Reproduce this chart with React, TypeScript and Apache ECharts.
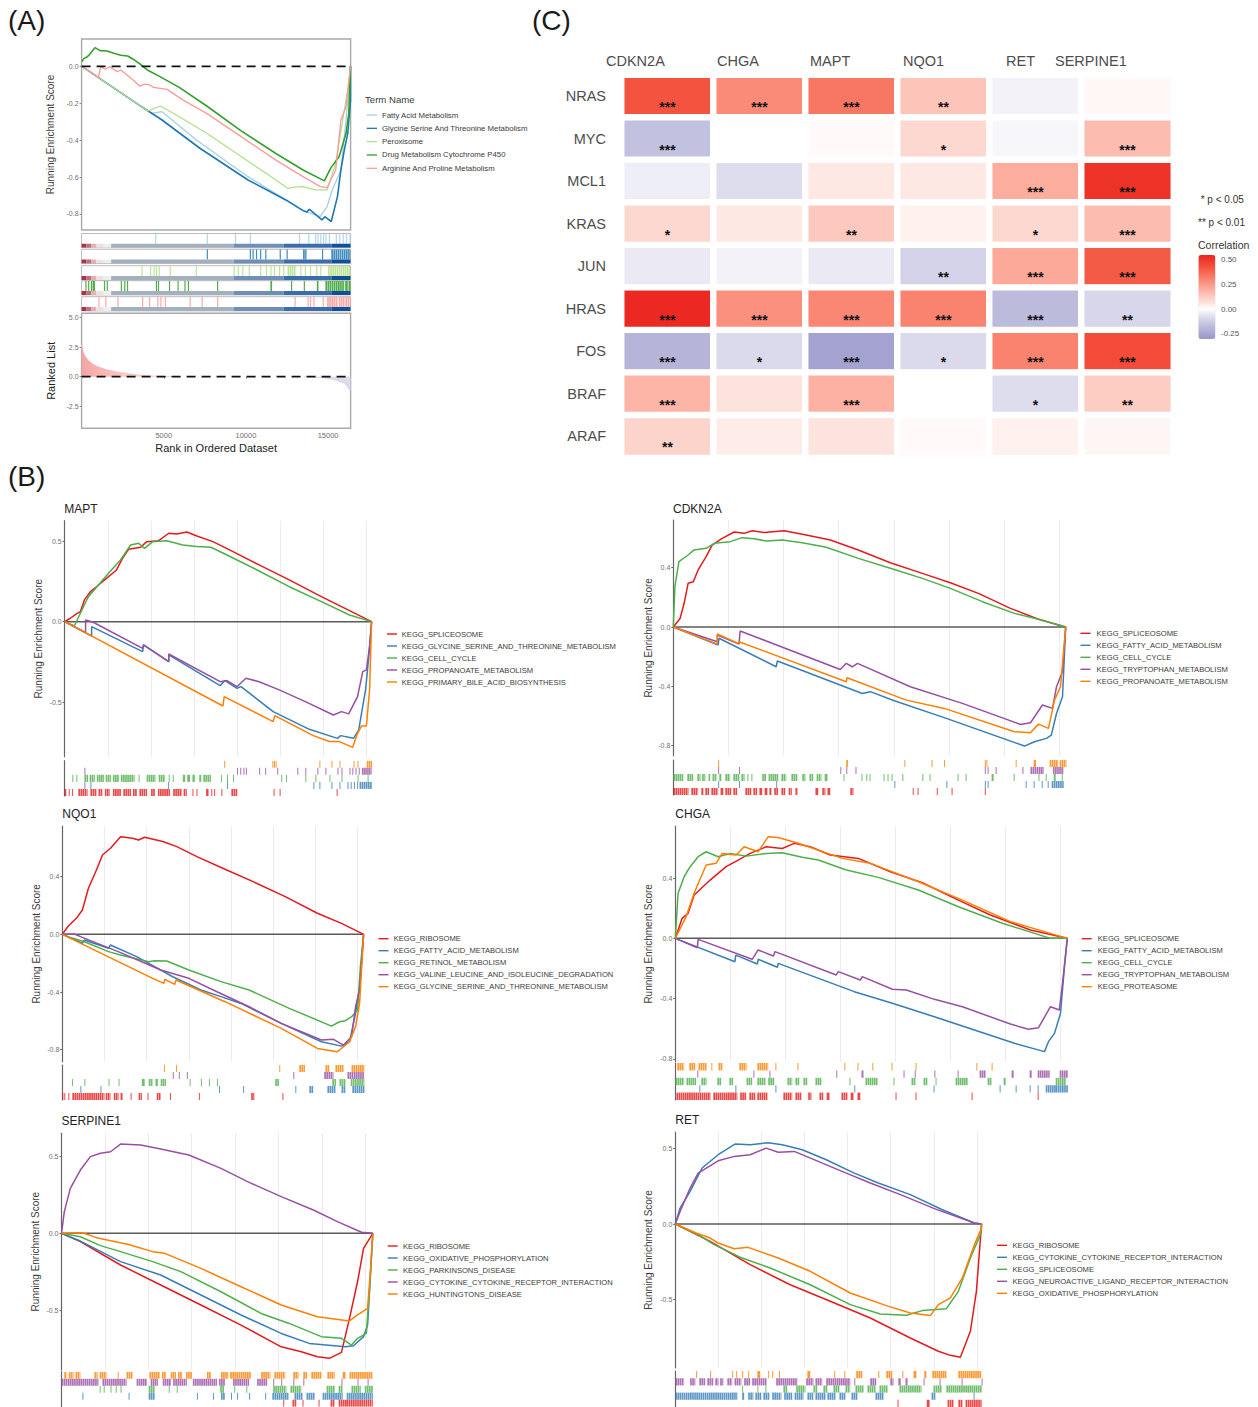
import React, { useEffect, useRef } from "react";
import * as echarts from "echarts";

// ---------- Panel A data (rank, running enrichment score) ----------
const aFatty = [[19,0],[3640,-.218],[4267,-.255],[4895,-.246],[6988,-.399],[10128,-.598],[12430,-.724],[13477,-.782],[14523,-.814],[14942,-.76],[15256,-.67],[15779,-.562],[16093,-.291],[16365,0]];
const aGlycine = [[19,0],[3640,-.218],[4895,-.291],[7198,-.444],[10128,-.616],[12430,-.724],[13477,-.782],[13700,-.79],[13850,-.775],[14000,-.785],[14628,-.832],[14800,-.815],[15193,-.841],[15570,-.706],[15779,-.562],[15988,-.453],[16198,-.363],[16365,-.182],[16365,0]];
const aPerox = [[19,0],[3640,-.218],[4058,-.242],[4791,-.215],[5942,-.273],[7616,-.363],[9709,-.489],[11384,-.589],[12535,-.661],[12953,-.655],[13477,-.652],[14209,-.67],[14942,-.67],[15465,-.525],[15988,-.237],[16198,-.128],[16365,0]];
const aDrug = [[19,.025],[145,.043],[291,.049],[459,.061],[814,.101],[1128,.085],[1547,.083],[1965,.071],[2384,.06],[2802,.056],[3221,.034],[3640,.007],[4058,-.023],[4686,-.052],[5942,-.114],[7616,-.215],[9709,-.35],[11802,-.471],[13477,-.562],[14774,-.621],[15151,-.553],[15674,-.489],[16093,-.363],[16260,-.255],[16365,0]];
const aArginine = [[19,0],[1023,-.06],[1170,-.002],[1442,-.016],[1714,-.002],[2175,-.029],[2384,-.02],[3012,-.065],[3535,-.107],[3849,-.096],[4163,-.101],[4372,-.114],[5209,-.125],[6151,-.182],[7616,-.255],[9709,-.381],[11802,-.507],[13477,-.598],[14523,-.652],[14942,-.657],[15465,-.562],[15779,-.291],[16093,-.218],[16365,0]];
const aRankedPos = [[1,2.7],[100,2.1],[200,1.8],[400,1.4],[700,1.05],[1000,.85],[1500,.6],[2000,.45],[2500,.33],[3000,.22],[3500,.14],[4000,.08],[5000,.02],[6000,0]];
const aRankedNeg = [[13500,0],[14000,-.02],[14500,-.08],[15000,-.15],[15500,-.3],[16000,-.55],[16365,-1.2]];
const aRugFatty = [4477,7616,9333,10233,13226,13791,14209,14355,14523,14690,14837,15046,15465,15674,15883,16093,16302];
const aRugGlycine = [7616,10233,10400,10609,10860,11174,12053,12472,[13477,13686],14628,[15193,16365]];
const aRugPerox = [3640,4163,4372,4519,4686,5356,6947,9249,9500,9772,10170,10860,11216,11488,11697,12011,12262,[12535,13058],13310,13582,13895,14272,14523,[15000,16365]];
const aRugDrug = [228,395,563,[668,814],1360,1528,2384,2593,2760,4519,4644,5314,[5837,5900],6255,6465,8244,[11488,11593],12744,13519,[14314,14418],[14837,16000],[16040,16200],[16240,16365]];
const aRugArginine = [1023,1442,2175,3682,4100,4603,4791,5063,6570,7302,8244,12953,13749,13895,14104,14669,[14942,15600],[15650,16000],[16050,16365]];
const aBandFrom = [0,300,600,900,1300,1800,9250,12300,15200];
const aBandTo = [300,600,900,1300,1800,9250,12300,15200,16365];

// ---------- Panel B: MAPT ----------
const maptRed = [[0,0],[14,.021],[29,.048],[39,.062],[49,.135],[64,.186],[79,.217],[104,.269],[129,.321],[144,.393],[159,.449],[189,.462],[204,.497],[234,.503],[259,.549],[279,.545],[304,.557],[329,.532],[369,.497],[419,.435],[489,.346],[559,.259],[639,.155],[709,.068],[764,0]];
const maptBlue = [[0,0],[67,-.089],[67,-.031],[194,-.186],[196,-.145],[259,-.248],[259,-.207],[387,-.398],[399,-.366],[429,-.414],[439,-.404],[519,-.559],[609,-.669],[679,-.725],[687,-.708],[719,-.725],[732,-.673],[739,-.569],[749,-.424],[757,-.217],[764,0]];
const maptGreen = [[0,0],[24,-.027],[39,.052],[59,.155],[84,.228],[109,.3],[139,.383],[164,.476],[184,.487],[199,.455],[219,.497],[254,.503],[294,.476],[329,.466],[364,.462],[399,.42],[479,.321],[559,.217],[639,.124],[709,.041],[764,0]];
const maptPurple = [[0,0],[52,-.068],[52,.01],[71,-.004],[194,-.166],[196,-.145],[259,-.248],[259,-.201],[387,-.373],[404,-.366],[429,-.404],[451,-.352],[484,-.373],[534,-.424],[599,-.497],[669,-.58],[689,-.559],[707,-.573],[729,-.466],[742,-.311],[751,-.3],[759,-.155],[764,0]];
const maptOrange = [[0,0],[394,-.524],[397,-.466],[519,-.621],[523,-.584],[619,-.708],[659,-.745],[684,-.745],[717,-.781],[729,-.694],[739,-.648],[751,-.648],[759,-.424],[764,0]];
const maptRugOrange = [397,517,521,525,634,664,684,719,729,[752,766]];
const maptRugPurple = [49,429,437,445,451,484,499,529,579,599,629,649,679,689,709,716,724,732,[740,764]];
const maptRugGreen = [19,29,[49,58],[62,75],[80,98],[102,115],[120,135],[140,174],184,[204,226],[234,250],259,269,[294,300],[305,312],[318,324],[335,340],[345,364],389,404,419,539,551,599,624,659,689,729,754];
const maptRugBlue = [49,64,257,404,619,634,664,684,704,712,720,728,[734,769]];
const maptRugRed = [[0,4],10,18,[34,57],[64,80],[84,94],[100,112],[120,140],[146,165],[170,180],[186,205],[215,225],[232,262],[270,292],[296,304],318,328,[352,358],365,372,390,[415,430],520,535,677];

// ---------- Panel B: CDKN2A ----------
const cdkRed = [[0,0],[17,.058],[27,.16],[37,.295],[50,.306],[62,.385],[82,.475],[97,.553],[122,.598],[152,.641],[177,.632],[197,.65],[227,.637],[277,.65],[332,.621],[392,.587],[462,.52],[542,.434],[622,.362],[692,.299],[762,.227],[842,.126],[912,.052],[980,0]];
const cdkBlue = [[0,0],[112,-.121],[114,-.076],[257,-.268],[260,-.229],[472,-.448],[492,-.436],[552,-.497],[682,-.616],[877,-.803],[902,-.774],[932,-.751],[944,-.729],[957,-.583],[972,-.47],[980,0]];
const cdkGreen = [[0,0],[4,.272],[14,.441],[37,.486],[52,.52],[82,.531],[102,.565],[142,.576],[172,.603],[202,.596],[232,.58],[272,.587],[322,.569],[382,.538],[462,.463],[542,.396],[622,.328],[692,.261],[772,.171],[852,.092],[912,.052],[980,0]];
const cdkPurple = [[0,0],[110,-.099],[110,-.054],[164,-.115],[167,-.027],[417,-.286],[432,-.245],[447,-.268],[460,-.245],[592,-.403],[722,-.515],[867,-.657],[892,-.646],[922,-.526],[947,-.549],[957,-.403],[972,-.301],[980,0]];
const cdkOrange = [[0,0],[110,-.115],[110,-.047],[162,-.11],[164,-.099],[432,-.369],[434,-.342],[582,-.493],[677,-.549],[852,-.706],[892,-.713],[912,-.655],[937,-.684],[952,-.493],[967,-.403],[980,0]];
const cdkRugOrange = [112,432,434,577,645,676,778,782,855,[900,906],[940,960],[965,982]];
const cdkRugPurple = [112,164,417,432,455,778,785,805,872,[892,925],[948,975]];
const cdkRugGreen = [[0,25],[35,50],[60,68],[72,80],[88,92],[98,108],[115,120],[130,142],[150,165],[170,178],185,195,[222,232],[238,262],[270,282],[295,310],[322,330],[340,350],[358,370],[378,385],425,470,482,490,525,535,545,572,622,640,710,730,[795,800],850,912,930,[950,955],970];
const cdkRugBlue = [112,164,257,552,682,778,785,880,900,920,935,[945,975]];
const cdkRugRed = [[0,38],[45,62],[70,75],[80,90],[95,112],[118,125],[130,145],[150,160],[180,195],[200,210],[215,222],[228,235],[240,245],[252,262],[270,280],[288,296],[305,310],[355,362],[372,380],[385,392],[442,450],598,610,658,695,778];

// ---------- Panel B: NQO1 ----------
const nqoRed = [[0,0],[15,.058],[35,.111],[50,.169],[65,.319],[85,.446],[100,.55],[120,.597],[145,.677],[175,.666],[190,.654],[205,.673],[250,.643],[285,.608],[335,.539],[405,.451],[475,.365],[555,.261],[635,.146],[695,.076],[750,0]];
const nqoBlue = [[0,0],[50,-.062],[55,-.039],[115,-.097],[120,-.074],[185,-.155],[275,-.294],[345,-.386],[395,-.432],[445,-.479],[545,-.617],[645,-.745],[695,-.775],[715,-.745],[730,-.548],[740,-.363],[750,0]];
const nqoGreen = [[0,0],[20,-.021],[55,-.051],[115,-.12],[145,-.143],[215,-.19],[230,-.183],[260,-.185],[315,-.247],[395,-.328],[465,-.386],[565,-.513],[670,-.636],[690,-.606],[705,-.599],[720,-.571],[735,-.525],[742,-.224],[750,0]];
const nqoPurple = [[0,0],[30,.002],[50,-.021],[145,-.127],[245,-.247],[315,-.305],[385,-.398],[465,-.502],[545,-.617],[645,-.733],[675,-.728],[700,-.768],[720,-.71],[730,-.502],[740,-.386],[750,0]];
const nqoOrange = [[0,0],[225,-.305],[253,-.34],[255,-.312],[280,-.347],[283,-.317],[405,-.467],[545,-.652],[635,-.791],[685,-.814],[715,-.745],[730,-.64],[740,-.479],[750,0]];
const nqoRugOrange = [253,283,540,[590,604],[655,665],[680,700],[720,752]];
const nqoRugPurple = [275,290,310,575,[652,675],[710,752]];
const nqoRugGreen = [24,55,115,140,[198,205],[215,225],[232,238],[245,258],317,345,365,385,[530,540],[672,682],[690,705],[718,752]];
const nqoRugBlue = [45,95,390,450,580,[615,625],[660,680],[695,705],[722,752]];
const nqoRugRed = [0,5,15,[25,105],[108,120],[128,140],[145,150],170,[190,198],212,[235,245],268,340,[470,478],548];

// ---------- Panel B: CHGA ----------
const chgRed = [[0,0],[17,.133],[32,.166],[47,.288],[87,.387],[127,.476],[157,.52],[187,.564],[227,.608],[267,.597],[297,.631],[337,.608],[387,.553],[457,.531],[537,.442],[617,.369],[707,.254],[787,.155],[887,.055],[979,0]];
const chgBlue = [[0,0],[149,-.155],[151,-.111],[205,-.17],[207,-.139],[255,-.192],[257,-.166],[447,-.354],[542,-.431],[647,-.52],[847,-.697],[922,-.752],[932,-.686],[947,-.631],[962,-.498],[972,-.188],[979,0]];
const chgGreen = [[0,0],[7,.299],[22,.409],[37,.476],[57,.542],[77,.575],[107,.542],[137,.564],[177,.546],[227,.564],[267,.569],[317,.538],[357,.52],[427,.454],[507,.405],[607,.321],[707,.21],[817,.1],[937,0],[979,0]];
const chgPurple = [[0,0],[55,-.062],[57,-.007],[192,-.139],[207,-.077],[245,-.117],[249,-.088],[402,-.243],[407,-.221],[462,-.277],[467,-.254],[542,-.338],[577,-.343],[647,-.405],[717,-.454],[837,-.569],[882,-.604],[907,-.593],[937,-.454],[959,-.476],[967,-.299],[979,0]];
const chgOrange = [[0,0],[27,.144],[47,.299],[77,.487],[102,.498],[117,.564],[152,.553],[172,.608],[207,.575],[232,.675],[257,.67],[307,.631],[357,.586],[417,.531],[487,.498],[607,.376],[717,.254],[837,.111],[979,0]];
const chgRugOrange = [[5,22],[35,50],[58,78],90,[108,118],[160,178],[205,232],250,305,422,455,492,540,600,752,790];
const chgRugPurple = [55,195,235,402,[465,470],570,598,647,705,[760,775],[840,845],[885,890],[905,935],[960,982]];
const chgRugGreen = [[0,22],[28,52],[65,78],[105,115],[135,145],[178,192],[205,225],[232,248],[280,292],[300,310],[320,330],[350,365],435,[475,505],545,[590,600],[620,630],650,[700,730],[780,790],[820,825],[950,975]];
const chgRugBlue = [60,150,250,447,645,810,850,885,905,[925,950],[950,982]];
const chgRugRed = [[3,88],[95,155],[162,178],[185,200],[205,230],[270,292],[300,315],[332,340],[360,370],[378,385],[415,430],[438,445],[455,462],550,600,740,905];

// ---------- Panel B: SERPINE1 ----------
const serRed = [[0,0],[47,-.054],[147,-.206],[247,-.336],[347,-.466],[447,-.597],[547,-.738],[597,-.77],[637,-.803],[667,-.813],[697,-.774],[717,-.553],[737,-.315],[752,-.098],[775,0]];
const serBlue = [[0,0],[47,-.05],[147,-.184],[247,-.271],[347,-.401],[447,-.531],[547,-.651],[617,-.716],[707,-.738],[727,-.731],[752,-.672],[762,-.597],[775,0]];
const serGreen = [[0,0],[47,-.022],[97,-.08],[147,-.119],[227,-.184],[297,-.249],[397,-.38],[497,-.521],[567,-.586],[647,-.672],[697,-.683],[722,-.727],[737,-.683],[759,-.651],[767,-.358],[775,0]];
const serPurple = [[0,0],[7,.141],[22,.293],[47,.412],[72,.499],[97,.521],[122,.531],[147,.581],[197,.575],[247,.549],[317,.51],[397,.423],[467,.332],[547,.239],[627,.152],[687,.076],[747,.007],[775,0]];
const serOrange = [[0,0],[52,.004],[87,-.028],[167,-.072],[227,-.119],[257,-.13],[347,-.228],[447,-.347],[547,-.466],[637,-.542],[717,-.57],[737,-.531],[762,-.488],[769,-.249],[775,0]];
const serRugOrange = [[7,12],[18,30],[35,47],[82,90],[95,112],140,[162,177],[219,245],[250,260],[272,285],[290,300],[310,325],[362,372],[397,415],[420,472],[497,520],[530,557],[577,590],[602,612],[622,647],[662,680],[700,707],[717,775]];
const serRugPurple = [[0,92],[102,162],[187,212],[222,240],[252,272],[278,312],[327,387],[392,407],[427,467],[487,512],527,547,577,602,697,737,762];
const serRugGreen = [95,105,122,135,147,[217,232],267,287,[395,405],430,460,[527,560],[570,597],[660,680],[690,700],[722,745],[755,775]];
const serRugBlue = [52,167,[217,232],337,377,[397,407],422,437,467,507,[525,565],[580,600],[610,630],[650,700],[710,775]];
const serRugRed = [552,[575,585],600,640,[670,680],[690,710],[710,775]];

// ---------- Panel B: RET ----------
const retRed = [[0,0],[87,-.115],[187,-.27],[287,-.403],[387,-.513],[487,-.624],[587,-.757],[657,-.845],[687,-.872],[712,-.885],[737,-.712],[752,-.447],[759,-.204],[765,0]];
const retBlue = [[0,0],[12,.106],[37,.217],[67,.372],[107,.46],[149,.531],[187,.527],[232,.54],[267,.527],[317,.493],[377,.427],[447,.338],[507,.272],[587,.195],[667,.095],[747,.007],[765,0]];
const retGreen = [[0,0],[57,-.071],[97,-.137],[167,-.226],[237,-.292],[337,-.403],[437,-.535],[512,-.597],[577,-.606],[617,-.575],[677,-.562],[707,-.447],[737,-.226],[762,-.071],[765,0]];
const retPurple = [[0,0],[12,.084],[37,.239],[57,.338],[107,.42],[147,.449],[187,.46],[227,.504],[257,.476],[297,.482],[357,.416],[427,.338],[487,.272],[567,.19],[647,.102],[747,.007],[765,0]];
const retOrange = [[0,0],[52,-.06],[87,-.093],[107,-.126],[147,-.164],[182,-.155],[257,-.226],[337,-.314],[437,-.458],[527,-.542],[587,-.591],[637,-.608],[657,-.535],[687,-.491],[717,-.358],[747,-.137],[765,-.027],[765,0]];
const retRugOrange = [52,87,142,152,167,182,[205,212],232,242,259,[330,337],397,422,[452,467],507,[527,542],567,[595,602],[622,627],[642,677],[707,765]];
const retRugPurple = [[0,22],[37,50],[60,75],[80,95],[100,108],[112,120],[130,142],[148,165],[172,187],[192,228],[252,305],[327,345],[350,367],[377,437],447,[487,502],[537,545],[557,563],[575,580],620,660,715,765];
const retRugGreen = [167,205,225,[270,280],[302,325],[345,355],[370,380],[395,410],[425,437],[450,470],[480,500],[510,530],[560,615],[645,665],[677,765]];
const retRugBlue = [[0,155],[167,172],[182,195],[200,215],[220,235],[242,265],[272,292],[298,320],[330,345],[350,375],[380,400],[410,425],[440,455],[500,520],[640,650],745];
const retRugRed = [555,[628,635],[680,695],[707,718],[725,765]];

// ---------- Panel C data ----------
const heatCols = ["CDKN2A", "CHGA", "MAPT", "NQO1", "RET", "SERPINE1"];
const heatRows = ["NRAS", "MYC", "MCL1", "KRAS", "JUN", "HRAS", "FOS", "BRAF", "ARAF"];
const heatVals = [
  [.42,.28,.33,.14,-.03,.015],
  [-.16,0,.01,.09,-.02,.16],
  [-.04,-.08,.05,.05,.2,.5],
  [.09,.05,.13,.03,.09,.16],
  [-.05,-.03,-.05,-.11,.21,.4],
  [.53,.27,.29,.3,-.18,-.1],
  [-.2,-.09,-.26,-.09,.3,.44],
  [.18,.06,.19,0,-.08,.12],
  [.1,.04,.06,.01,.03,.02],
];
const heatStars = [
  ["***","***","***","**","",""],
  ["***","","","*","","***"],
  ["","","","","***","***"],
  ["*","","**","","*","***"],
  ["","","","**","***","***"],
  ["***","***","***","***","***","**"],
  ["***","*","***","*","***","***"],
  ["***","","***","","*","**"],
  ["**","","","","",""],
];
const colorbarTicks = ["0.50", "0.25", "0.00", "-0.25"];

// ---------- Styles & layout ----------
const FONT = "Liberation Sans";
const RED = "#e41a1c", BLUE = "#377eb8", GREEN = "#4daf4a", PURPLE = "#984ea3", ORANGE = "#ff7f00";
const setColors = [RED, BLUE, GREEN, PURPLE, ORANGE];
const bandColors = ["#b03048", "#c76b7c", "#e4b0b8", "#f3dfe2", "#eceef2", "#a4afc0", "#6f8fb8", "#3a6cb0", "#114f9b"];
const heatScale = ["#9896ca","#a9a8d3","#bcbbdc","#cfcee6","#e6e5f2","#ffffff","#fde3dd","#fdccc2","#fcb5a7","#fb9c8b","#f9836f","#f66b56","#f3533f","#ef3b2c","#ea2420"];

type Rug = (number | number[])[];
const panelsB = [
  { title: "MAPT", left: 64.7, right: 371.6, top: 520.7, bottom: 756.7, rugTop: 760.7, rugBottom: 796, xMax: 764, step: 107.3, yMin: -.839, yMax: .627, ticks: [-.5,0,.5], gap: 21.7, titleX: 64.3, titleY: 509,
    curves: [maptRed, maptBlue, maptGreen, maptPurple, maptOrange], rugs: [maptRugRed, maptRugBlue, maptRugGreen, maptRugPurple, maptRugOrange] as Rug[],
    names: ["KEGG_SPLICEOSOME","KEGG_GLYCINE_SERINE_AND_THREONINE_METABOLISM","KEGG_CELL_CYCLE","KEGG_PROPANOATE_METABOLISM","KEGG_PRIMARY_BILE_ACID_BIOSYNTHESIS"], keyX: 387, textX: 401.8, legendY: 634 },
  { title: "CDKN2A", left: 673.3, right: 1065.7, top: 520, bottom: 755.7, rugTop: 760, rugBottom: 795, xMax: 980, step: 137.7, yMin: -.868, yMax: .722, ticks: [-.8,-.4,0,.4], gap: 20.3, titleX: 673, titleY: 509,
    curves: [cdkRed, cdkBlue, cdkGreen, cdkPurple, cdkOrange], rugs: [cdkRugRed, cdkRugBlue, cdkRugGreen, cdkRugPurple, cdkRugOrange] as Rug[],
    names: ["KEGG_SPLICEOSOME","KEGG_FATTY_ACID_METABOLISM","KEGG_CELL_CYCLE","KEGG_TRYPTOPHAN_METABOLISM","KEGG_PROPANOATE_METABOLISM"], keyX: 1080.5, textX: 1096.6, legendY: 633.3 },
  { title: "NQO1", left: 62.3, right: 363.6, top: 826, bottom: 1061.7, rugTop: 1065, rugBottom: 1100, xMax: 750, step: 105, yMin: -.883, yMax: .751, ticks: [-.8,-.4,0,.4], gap: 21.3, titleX: 62.3, titleY: 814,
    curves: [nqoRed, nqoBlue, nqoGreen, nqoPurple, nqoOrange], rugs: [nqoRugRed, nqoRugBlue, nqoRugGreen, nqoRugPurple, nqoRugOrange] as Rug[],
    names: ["KEGG_RIBOSOME","KEGG_FATTY_ACID_METABOLISM","KEGG_RETINOL_METABOLISM","KEGG_VALINE_LEUCINE_AND_ISOLEUCINE_DEGRADATION","KEGG_GLYCINE_SERINE_AND_THREONINE_METABOLISM"], keyX: 378.5, textX: 393.7, legendY: 938.7 },
  { title: "CHGA", left: 675.3, right: 1067.3, top: 826, bottom: 1061.7, rugTop: 1063, rugBottom: 1100, xMax: 979, step: 137.3, yMin: -.819, yMax: .746, ticks: [-.8,-.4,0,.4], gap: 21.5, titleX: 675.3, titleY: 814,
    curves: [chgRed, chgBlue, chgGreen, chgPurple, chgOrange], rugs: [chgRugRed, chgRugBlue, chgRugGreen, chgRugPurple, chgRugOrange] as Rug[],
    names: ["KEGG_SPLICEOSOME","KEGG_FATTY_ACID_METABOLISM","KEGG_CELL_CYCLE","KEGG_TRYPTOPHAN_METABOLISM","KEGG_PROTEASOME"], keyX: 1081.7, textX: 1097.8, legendY: 938.7 },
  { title: "SERPINE1", left: 61.5, right: 372.8, top: 1133.3, bottom: 1370, rugTop: 1371.7, rugBottom: 1406.7, xMax: 775, step: 108, yMin: -.889, yMax: .651, ticks: [-.5,0,.5], gap: 21, titleX: 61.5, titleY: 1120.7,
    curves: [serRed, serBlue, serGreen, serPurple, serOrange], rugs: [serRugRed, serRugBlue, serRugGreen, serRugPurple, serRugOrange] as Rug[],
    names: ["KEGG_RIBOSOME","KEGG_OXIDATIVE_PHOSPHORYLATION","KEGG_PARKINSONS_DISEASE","KEGG_CYTOKINE_CYTOKINE_RECEPTOR_INTERACTION","KEGG_HUNTINGTONS_DISEASE"], keyX: 387.7, textX: 403, legendY: 1246 },
  { title: "RET", left: 675.3, right: 981.6, top: 1132, bottom: 1368, rugTop: 1371, rugBottom: 1407, xMax: 765, step: 107.6, yMin: -.956, yMax: .611, ticks: [-.5,0,.5], gap: 21.9, titleX: 675.3, titleY: 1120,
    curves: [retRed, retBlue, retGreen, retPurple, retOrange], rugs: [retRugRed, retRugBlue, retRugGreen, retRugPurple, retRugOrange] as Rug[],
    names: ["KEGG_RIBOSOME","KEGG_CYTOKINE_CYTOKINE_RECEPTOR_INTERACTION","KEGG_SPLICEOSOME","KEGG_NEUROACTIVE_LIGAND_RECEPTOR_INTERACTION","KEGG_OXIDATIVE_PHOSPHORYLATION"], keyX: 997, textX: 1012.5, legendY: 1245.3 },
];

function rugRect(items: Rug, y0: number, y1: number) {
  return items.map((it) => (Array.isArray(it) ? [it[0], it[1], y0, y1] : [it, it, y0, y1]));
}

// A span is a run of hits too close to tell apart: it is drawn as tight ticks, not as a solid bar.
function rectSeries(xi: number, data: number[][], color: string | ((i: number) => string), minW: number, opacity: number, hatch = false) {
  return {
    type: "custom", xAxisIndex: xi, yAxisIndex: xi, silent: true, clip: true, data,
    encode: { x: [0, 1], y: [2, 3] },
    renderItem: (p: any, api: any) => {
      const a = api.coord([api.value(0), api.value(3)]);
      const b = api.coord([api.value(1), api.value(2)]);
      const w = Math.max(b[0] - a[0], minW), h = b[1] - a[1];
      const fill = typeof color === "string" ? color : color(p.dataIndex);
      if (!hatch || w < 3) return { type: "rect", shape: { x: a[0], y: a[1], width: w, height: h }, style: { fill, opacity } };
      const children: any[] = [];
      for (let x = a[0]; x < a[0] + w; x += 2.1) {
        children.push({ type: "rect", shape: { x, y: a[1], width: Math.min(1.7, a[0] + w - x), height: h }, style: { fill, opacity } });
      }
      return { type: "group", children };
    },
  };
}

function lineSeries(xi: number, data: number[][], color: string, width: number, extra: any = {}) {
  return { type: "line", xAxisIndex: xi, yAxisIndex: xi, data, showSymbol: false, symbol: "none", silent: true, lineStyle: { color, width }, ...extra };
}

function buildOption() {
  const grid: any[] = [], xAxis: any[] = [], yAxis: any[] = [], series: any[] = [], elements: any[] = [];
  const addGrid = (left: number, right: number, top: number, bottom: number, x: any, y: any, extra: any = {}) => {
    grid.push({ left, top, width: right - left, height: bottom - top, containLabel: false, ...extra });
    const i = grid.length - 1;
    xAxis.push({ type: "value", gridIndex: i, axisLine: { show: false }, axisTick: { show: false }, axisLabel: { show: false }, splitLine: { show: false }, ...x });
    yAxis.push({ type: "value", gridIndex: i, axisLine: { show: false, onZero: false }, axisTick: { show: false }, axisLabel: { show: false }, splitLine: { show: false }, ...y });
    return i;
  };
  const text = (t: string, x: number, y: number, fontSize: number, fill: string, extra: any = {}) =>
    elements.push({ type: "text", x, y, silent: true, style: { text: t, fontSize, fill, fontFamily: FONT, verticalAlign: "middle", align: "left", ...extra } });
  const legendRow = (x0: number, x1: number, y: number, color: string, label: string, textX: number, w: number, fs: number) => {
    elements.push({ type: "line", silent: true, shape: { x1: x0, y1: y, x2: x1, y2: y }, style: { stroke: color, lineWidth: w } });
    text(label, textX, y, fs, "#3a3a3a");
  };

  // Panel letters
  text("(A)", 8, 20, 28, "#1a1a1a");
  text("(B)", 8, 476, 28, "#1a1a1a");
  text("(C)", 532, 20, 28, "#1a1a1a");

  // ---- Panel A ----
  const aL = 81.6, aR = 350.6, frame = { show: true, borderColor: "#a9a9a9", borderWidth: 1.4 };
  const aX = { min: 1, max: 16370 };
  const tickStyle = { color: "#6f6f6f", fontSize: 7, margin: 3, fontFamily: FONT };
  const aTop = addGrid(aL, aR, 39, 230, aX, {
    min: -.887, max: .148, name: "Running Enrichment Score", nameLocation: "middle", nameGap: 26,
    nameTextStyle: { fontSize: 10, color: "#3c3c3c", fontFamily: FONT },
    axisTick: { show: true, length: 2, lineStyle: { color: "#888" }, customValues: [-.8,-.6,-.4,-.2,0] },
    axisLabel: { show: true, ...tickStyle, customValues: [-.8,-.6,-.4,-.2,0], formatter: (v: number) => v.toFixed(1) },
  }, frame);
  const aCurves = [aFatty, aGlycine, aPerox, aDrug, aArginine];
  const aColors = ["#a6cee3", "#1f78b4", "#b2df8a", "#33a02c", "#fb9a99"];
  const aWidths = [1.3, 1.6, 1.3, 1.6, 1.3];
  aCurves.forEach((c, i) => series.push(lineSeries(aTop, c, aColors[i], aWidths[i])));
  series.push(lineSeries(aTop, [[1, 0], [16370, 0]], "#111", 1.8, { lineStyle: { color: "#111", width: 1.8, type: [9, 6] }, z: 5 }));

  const aRugs: Rug[] = [aRugFatty, aRugGlycine, aRugPerox, aRugDrug, aRugArginine];
  const stripTops = [233.5, 249.3, 265.7, 280.7, 296.7];
  const bandData = aBandFrom.map((f, i) => [f, aBandTo[i], 0, .28]);
  aRugs.forEach((r, i) => {
    const s = addGrid(aL, aR, stripTops[i], stripTops[i] + 14.2, aX, { min: 0, max: 1 }, { show: true, borderColor: "#a9a9a9", borderWidth: .8 });
    series.push(rectSeries(s, rugRect(r, .28, 1), aColors[i], 1.2, .85, true));
    series.push(rectSeries(s, bandData, (k: number) => bandColors[k], 0, 1));
  });

  const aBot = addGrid(aL, aR, 313.3, 428.3, {
    ...aX, name: "Rank in Ordered Dataset", nameLocation: "middle", nameGap: 14.5,
    nameTextStyle: { fontSize: 11, color: "#222", fontFamily: FONT },
    axisTick: { show: true, length: 2, lineStyle: { color: "#888" }, customValues: [5000,10000,15000] },
    axisLabel: { show: true, color: "#6f6f6f", fontSize: 7.5, margin: 3, fontFamily: FONT, customValues: [5000,10000,15000], formatter: (v: number) => String(v) },
  }, {
    min: -4.37, max: 5.37, name: "Ranked List", nameLocation: "middle", nameGap: 25.5,
    nameTextStyle: { fontSize: 11, color: "#222", fontFamily: FONT },
    axisTick: { show: true, length: 2, lineStyle: { color: "#888" }, customValues: [-2.5,0,2.5,5] },
    axisLabel: { show: true, ...tickStyle, customValues: [-2.5,0,2.5,5], formatter: (v: number) => v.toFixed(1) },
  }, frame);
  series.push(lineSeries(aBot, aRankedPos, "#f7b4b0", .6, {
    areaStyle: { opacity: 1, color: new echarts.graphic.LinearGradient(0, 0, 1, 0, [{ offset: 0, color: "#f5a5a3" }, { offset: .5, color: "#fbcfca" }, { offset: 1, color: "#fef0ee" }]) },
  }));
  series.push(lineSeries(aBot, aRankedNeg, "#c9c9e2", .6, { areaStyle: { opacity: 1, color: "#dcdcec" } }));
  series.push(lineSeries(aBot, [[1, 0], [16370, 0]], "#111", 1.8, { lineStyle: { color: "#111", width: 1.8, type: [9, 6] }, z: 5 }));

  const aNames = ["Fatty Acid Metabolism", "Glycine Serine And Threonine Metabolism", "Peroxisome", "Drug Metabolism Cytochrome P450", "Arginine And Proline Metabolism"];
  text("Term Name", 365, 99.3, 9.6, "#3a3a3a");
  aNames.forEach((n, i) => legendRow(366.7, 377, 115 + i * 13.33, aColors[i], n, 382, 1.3, 7.8));

  // ---- Panel B ----
  panelsB.forEach((p) => {
    const ticks: number[] = [];
    for (let k = 1; k * p.step < p.xMax; k++) ticks.push(k * p.step);
    const m = addGrid(p.left, p.right, p.top, p.bottom, {
      min: 0, max: p.xMax,
      axisTick: { show: false, customValues: ticks },
      splitLine: { show: true, lineStyle: { color: "#ececec", width: 1 } },
    }, {
      min: p.yMin, max: p.yMax, name: "Running Enrichment Score", nameLocation: "middle", nameGap: p.gap,
      nameTextStyle: { fontSize: 10, color: "#3c3c3c", fontFamily: FONT },
      axisLine: { show: true, onZero: false, lineStyle: { color: "#666", width: 1.2 } },
      axisTick: { show: true, length: 2, lineStyle: { color: "#666" }, customValues: p.ticks },
      axisLabel: { show: true, ...tickStyle, customValues: p.ticks, formatter: (v: number) => v.toFixed(1) },
    });
    series.push(lineSeries(m, [[0, 0], [p.xMax, 0]], "#5a5a5a", 1.5));
    p.curves.forEach((c, i) => series.push(lineSeries(m, c, setColors[i], 1.5)));

    const r = addGrid(p.left, p.right, p.rugTop, p.rugBottom, { min: 0, max: p.xMax }, {
      min: 0, max: 5,
      axisLine: { show: true, onZero: false, lineStyle: { color: "#666", width: 1.2 } },
    });
    p.rugs.forEach((rug, i) => series.push(rectSeries(r, rugRect(rug, i, i + 1), setColors[i], 1, .8, true)));

    text(p.title, p.titleX, p.titleY, 12, "#222");
    p.names.forEach((n, i) => legendRow(p.keyX, p.keyX + 10, p.legendY + i * 12, setColors[i], n, p.textX, 1.4, 7.6));
  });

  // ---- Panel C ----
  grid.push({ left: 621.5, top: 75, width: 552, height: 382.7 });
  const h = grid.length - 1;
  xAxis.push({ type: "category", gridIndex: h, data: heatCols, axisLine: { show: false }, axisTick: { show: false }, axisLabel: { show: false }, splitLine: { show: false } });
  yAxis.push({ type: "category", gridIndex: h, data: heatRows, inverse: true, axisLine: { show: false }, axisTick: { show: false }, splitLine: { show: false },
    axisLabel: { fontSize: 14.5, color: "#4d4d4d", margin: 15.5, fontFamily: FONT } });
  const heatData: number[][] = [];
  heatVals.forEach((row, ri) => row.forEach((v, ci) => heatData.push([ci, ri, v])));
  series.push({
    type: "heatmap", xAxisIndex: h, yAxisIndex: h, data: heatData, silent: true,
    itemStyle: { borderColor: "#fff", borderWidth: 6.4 },
    label: { show: true, position: ["50%", "72%"], align: "center", verticalAlign: "middle", fontSize: 14, color: "#111", fontFamily: FONT, fontWeight: "bold",
      formatter: (q: any) => heatStars[q.data[1]][q.data[0]] },
  });
  const heatSeriesIndex = series.length - 1;

  const colLabelX = [606, 717, 810, 903, 1006, 1055];
  heatCols.forEach((c, i) => text(c, colLabelX[i], 61, 14.5, "#4d4d4d"));

  text("* p < 0.05", 1200.7, 199, 10, "#333");
  text("** p < 0.01", 1198, 222, 10, "#333");
  text("Correlation", 1198, 245, 10.5, "#333");
  const cbY = [259, 284, 309, 333];
  colorbarTicks.forEach((t, i) => text(t, 1221, cbY[i], 8, "#555"));

  return {
    animation: false,
    backgroundColor: "#ffffff",
    textStyle: { fontFamily: FONT },
    tooltip: { show: false },
    grid, xAxis, yAxis, series,
    visualMap: {
      type: "continuous", seriesIndex: heatSeriesIndex, dimension: 2, min: -.3, max: .54, calculable: false, realtime: false,
      left: 1198.4, top: 255, itemWidth: 17, itemHeight: 84, padding: 0, text: undefined, showLabel: false,
      inRange: { color: heatScale }, textStyle: { fontSize: 0, color: "transparent" }, hoverLink: false, formatter: () => "",
    },
    graphic: { elements },
  };
}

export default function App() {
  const ref = useRef<HTMLDivElement>(null);
  useEffect(() => {
    const chart = echarts.init(ref.current as HTMLDivElement, undefined, { renderer: "svg" });
    chart.setOption(buildOption() as any);
    return () => chart.dispose();
  }, []);
  return (
    <div style={{ position: "absolute", left: 0, top: 0, width: 1258, height: 1407, overflow: "hidden", background: "#fff" }}>
      <div ref={ref} style={{ width: 1258, height: 1407 }} />
    </div>
  );
}
